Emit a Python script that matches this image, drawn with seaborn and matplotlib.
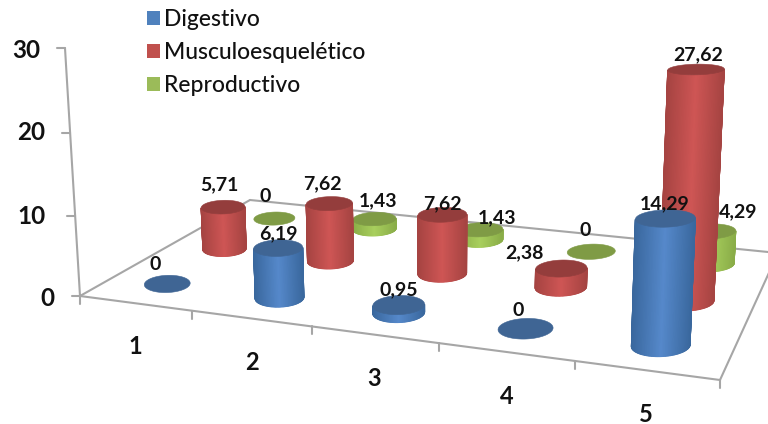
#!/usr/bin/env python3
"""3D style cylinder chart: Digestivo / Musculoesquelético / Reproductivo by group."""

import matplotlib
matplotlib.use("Agg")
import matplotlib.pyplot as plt
from matplotlib.patches import Patch, Polygon
import numpy as np
import seaborn as sns

categories = ["1", "2", "3", "4", "5"]
digestivo = [0, 6.19, 0.95, 0, 14.29]
musculo = [5.71, 7.62, 7.62, 2.38, 27.62]
reproductivo = [0, 1.43, 1.43, 0, 4.29]
y_ticks = [0, 10, 20, 30]
series_names = ["Digestivo", "Musculoesquelético", "Reproductivo"]

# (edge, centre, top) shades for each series
SHADES = {
    "Digestivo": ("#3A689E", "#5689CB", "#3F6594"),
    "Musculoesquelético": ("#A64442", "#CF5655", "#943D3C"),
    "Reproductivo": ("#8AAD48", "#A9D05E", "#7F9B45"),
}
LEGEND_COLORS = ["#4F81BD", "#C0504D", "#9BBB59"]
AXIS_COLOR = "#A6A6A6"

# label anchor positions on the canvas, same order as the series lists
LABEL_POS = {
    "Digestivo": [(155, 265), (278, 234), (399, 290), (518, 311), (665, 204)],
    "Musculoesquelético": [(219, 185), (322, 184), (442, 204), (524, 253), (698, 55)],
    "Reproductivo": [(265, 197), (378, 201), (497, 218), (585, 231), (738, 212)],
}
XLABEL_POS = [(135, 346), (252, 362), (374, 378), (507, 396), (646, 414)]
YLABEL_POS = [(47, 298), (31, 217), (31, 133), (26, 50)]

N_CATS, N_SERIES, Z_MAX = 5, 3, 30
RADIUS_U, RADIUS_V, TILT = 0.21, 0.23, -0.03


def build_camera():
    """Projection matrix from (category, series, value) to canvas pixels."""
    floor = np.array([(0, 0), (N_CATS, 0), (N_CATS, N_SERIES), (0, N_SERIES)], float)
    canvas = np.array([(80, 296), (720, 380), (778, 253), (250, 200)], float)
    rows, rhs = [], []
    for (u, v), (x, y) in zip(floor, canvas):
        rows.append([u, v, 1, 0, 0, 0, -u * x, -v * x])
        rows.append([0, 0, 0, u, v, 1, -u * y, -v * y])
        rhs += [x, y]
    a, b, c, d, e, f, g, h = np.linalg.solve(np.array(rows), np.array(rhs))
    vanish = np.array([444.0, 6310.0, 1.0])
    k = -0.0396 / Z_MAX
    return np.array([
        [a, b, k * vanish[0], c],
        [d, e, k * vanish[1], f],
        [g, h, k, 1.0],
    ])


CAMERA = build_camera()


def project(u, v, z=0.0):
    u, v, z = np.broadcast_arrays(np.asarray(u, float), np.asarray(v, float), np.asarray(z, float))
    pts = CAMERA @ np.stack([u, v, z, np.ones_like(u)])
    return pts[0] / pts[2], pts[1] / pts[2]


def footprint(u, v, n):
    """Floor outline whose screen image is a nearly level ellipse."""
    theta = np.linspace(0, 2 * np.pi, n, endpoint=False)
    x0, y0 = project(u, v)
    x1, y1 = project(u + 0.1, v)
    x2, y2 = project(u, v + 0.1)
    jac = np.array([[x1 - x0, x2 - x0], [y1 - y0, y2 - y0]], float) / 0.1
    width = RADIUS_U * abs(jac[0, 0])
    height = RADIUS_V * abs(jac[1, 1])
    dx = width * np.cos(theta)
    # screen y points down, so sin(theta) > 0 is the far side of the footprint
    dy = -height * np.sin(theta) + TILT * dx
    du, dv = np.linalg.solve(jac, np.vstack([dx, dy]))
    return u + du, v + dv


def draw_cylinder(ax, u, v, value, shades, zorder):
    edge, centre, top = shades
    n = 120
    cu, cv = footprint(u, v, n)
    bx, by = project(cu, cv, 0)
    tx, ty = project(cu, cv, value)
    if value > 0:
        # only the arc facing the viewer is visible
        left, right = int(np.argmin(bx)), int(np.argmax(bx))
        idx = [left]
        while idx[-1] != right:
            idx.append((idx[-1] + 1) % n)
        mid, half = (bx[left] + bx[right]) / 2, (bx[right] - bx[left]) / 2
        pos = (bx[idx] - mid) / half
        cmap = sns.blend_palette([edge, centre, edge], as_cmap=True)
        ax.pcolormesh(np.vstack([bx[idx], tx[idx]]), np.vstack([by[idx], ty[idx]]),
                      np.vstack([pos, pos]), cmap=cmap, vmin=-1, vmax=1,
                      shading="gouraud", zorder=zorder)
    ax.add_patch(Polygon(np.column_stack([tx, ty]), closed=True, facecolor=top,
                         edgecolor=top, linewidth=0.4, zorder=zorder + 0.5))


def draw_frame(ax):
    line = dict(color=AXIS_COLOR, lw=1.5, zorder=1, solid_capstyle="round")
    for us, vs in [((0, N_CATS), (0, 0)), ((N_CATS, N_CATS), (0, N_SERIES)),
                   ((N_CATS, 0), (N_SERIES, N_SERIES)), ((0, 0), (N_SERIES, 0))]:
        ax.plot(*project(np.array(us), np.array(vs)), **line)
    ax.plot(*project(np.array([0, 0]), np.array([0, 0]), np.array([0, Z_MAX])), **line)
    for i in range(N_CATS + 1):
        x, y = project(i, 0)
        ax.plot([x, x], [y, y + 8], **line)
    for tick in y_ticks:
        x, y = project(0, 0, tick)
        ax.plot([x - 8, x], [y, y], **line)


def main():
    sns.set_theme(style="white")
    plt.rcParams["font.family"] = ["Lato", "DejaVu Sans"]

    fig, ax = plt.subplots(figsize=(7.68, 4.24), dpi=100)
    ax.set_position([0, 0, 1, 1])

    draw_frame(ax)

    series = [("Reproductivo", reproductivo, 2.5), ("Musculoesquelético", musculo, 1.5), ("Digestivo", digestivo, 0.5)]
    z = 2
    for name, values, v in series:
        for i, value in enumerate(values):
            draw_cylinder(ax, i + 0.5, v, value, SHADES[name], z)
            z += 1
        for (x, y), value in zip(LABEL_POS[name], values):
            text = "0" if value == 0 else f"{value:.2f}".replace(".", ",")
            ax.text(x, y, text, ha="center", va="center", fontsize=14, fontweight="bold",
                    color="#111111", zorder=100)

    for (x, y), label in zip(XLABEL_POS, categories):
        ax.text(x, y, label, ha="center", va="center", fontsize=17, fontweight="bold", color="#111111")
    for (x, y), tick in zip(YLABEL_POS, y_ticks):
        ax.text(x, y, str(tick), ha="center", va="center", fontsize=17.5, fontweight="bold", color="#111111")

    ax.set_xlim(0, 768)
    ax.set_ylim(424, 0)
    ax.axis("off")

    handles = [Patch(facecolor=c, edgecolor="none", label=n) for c, n in zip(LEGEND_COLORS, series_names)]
    ax.legend(handles=handles, loc="upper left", bbox_to_anchor=(0.186, 0.99), frameon=False,
              prop=dict(size=16.5, weight="medium"), handlelength=0.55, handleheight=0.55, handletextpad=0.16,
              labelspacing=0.53, labelcolor="#111111", borderpad=0.2, borderaxespad=0)

    fig.savefig("out.png", dpi=100, facecolor="white")
    plt.close(fig)


if __name__ == "__main__":
    main()
